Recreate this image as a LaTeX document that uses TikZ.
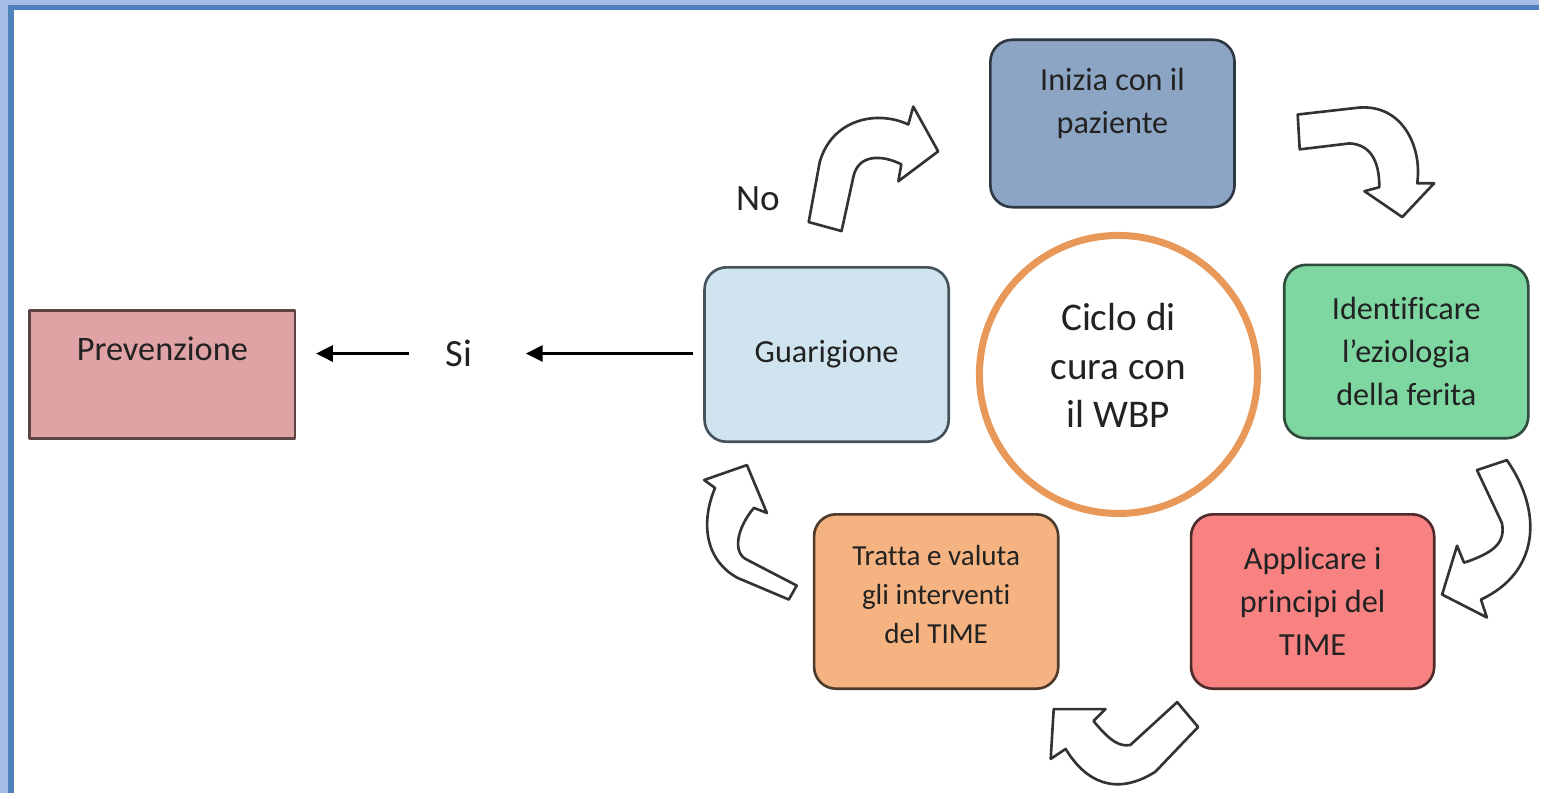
\documentclass[tikz,border=0pt]{standalone}
\usepackage{fontspec}
\setmainfont{Carlito}[Ligatures=NoCommon]
\usetikzlibrary{arrows.meta}
\definecolor{framelight}{HTML}{A6BEE6}
\definecolor{framedark}{HTML}{4F81BD}
\definecolor{textdark}{HTML}{222222}
\definecolor{arrowgrey}{HTML}{333333}
\definecolor{ringorange}{HTML}{E8995A}
\definecolor{prevfill}{HTML}{DFA3A6}  \definecolor{prevline}{HTML}{5E4444}
\definecolor{guarfill}{HTML}{CFE4EF}  \definecolor{guarline}{HTML}{45525C}
\definecolor{inifill}{HTML}{8DA5C4}   \definecolor{iniline}{HTML}{2E3845}
\definecolor{identfill}{HTML}{7ED6A1} \definecolor{identline}{HTML}{2F4B3B}
\definecolor{applfill}{HTML}{F88181}  \definecolor{applline}{HTML}{4E2B2B}
\definecolor{tratfill}{HTML}{F5B381}  \definecolor{tratline}{HTML}{4E3B2B}
\begin{document}
\begin{tikzpicture}[x=0.01cm, y=-0.01cm, line join=round,
  box/.style={rectangle, rounded corners=0.22cm, line width=0.75pt, minimum width=2.45cm, minimum height=1.75cm, align=center, text=textdark, font=\fontsize{9.2}{12.2}\selectfont},
  boxlabel/.style={align=center, text=textdark, font=\fontsize{9.2}{12.2}\selectfont},
  bent/.style={draw=arrowgrey, fill=white, line width=0.75pt},
  flow/.style={-{Triangle[length=4.8pt,width=4.6pt]}, line width=0.8pt},
  word/.style={inner sep=0pt, text=textdark, font=\fontsize{10.6}{13}\selectfont}]
  % frame
  \fill[framelight] (0,0) rectangle (1545,796);
  \fill[framedark] (8,5) rectangle (1545,796);
  \fill[white] (14,10) rectangle (1545,796);
  % boxes of the cycle
  \node[box, rounded corners=0pt, minimum width=2.66cm, minimum height=1.28cm, fill=prevfill, draw=prevline,
    label={[boxlabel, font=\fontsize{9.8}{12}\selectfont, yshift=0.26cm]center:Prevenzione}] (prev) at (163,376) {};
  \node[word, font=\fontsize{11}{13}\selectfont] (si) at (461,355) {Si};
  \node[box, fill=guarfill, draw=guarline] (guar) at (830,356) {Guarigione};
  \node[box, minimum height=1.68cm, fill=inifill, draw=iniline,
    label={[boxlabel, yshift=0.2cm]center:Inizia con il\\paziente}] (inizia) at (1117,124) {};
  \node[box, minimum height=1.74cm, fill=identfill, draw=identline] (ident) at (1412,353) {Identificare\\l’eziologia\\della ferita};
  \node[box, minimum width=2.44cm, fill=applfill, draw=applline] (appl) at (1318,604) {Applicare i\\principi del\\TIME};
  \node[box, fill=tratfill, draw=tratline,
    label={[boxlabel, font=\fontsize{8.3}{11.1}\selectfont, yshift=0.07cm]center:Tratta e valuta\\gli interventi\\del TIME}] (tratta) at (940,604) {};
  \node[circle, draw=ringorange, line width=2pt, fill=white, minimum size=2.79cm,
    label={[boxlabel, font=\fontsize{11.2}{13.9}\selectfont, yshift=0.09cm]center:Ciclo di\\cura con\\il WBP}] (wbp) at (1123,376) {};
  \node[word] (no) at (761,200) {No};
  % way out of the cycle
  \draw[flow, shorten <=0.1cm, shorten >=0.53cm] (guar.west |- si) -- (si);
  \draw[flow, shorten <=0.36cm, shorten >=0.2cm] (si) -- (si -| prev.east);
  % bent block arrows round the circle
  \draw[bent] (812,223) -- (823,163) .. controls (835,120) and (880,110) .. (912,125) -- (917,107) -- (942,152)
    -- (902,182) -- (905,165) .. controls (885,155) and (862,155) .. (857,177) -- (845,232) -- cycle;
  \draw[bent] (1303,115) -- (1365,108) .. controls (1410,105) and (1428,150) .. (1423,184) -- (1440,184) -- (1408,218)
    -- (1370,192) -- (1385,188) .. controls (1385,160) and (1375,145) .. (1355,144) -- (1305,150) -- cycle;
  \draw[bent] (1483,472) -- (1513,462) .. controls (1550,515) and (1545,575) .. (1487,602) -- (1493,620) -- (1448,597)
    -- (1463,548) -- (1470,565) .. controls (1500,555) and (1512,545) .. (1508,525) -- cycle;
  \draw[bent] (1058,712) -- (1110,712) -- (1098,724) .. controls (1115,745) and (1125,750) .. (1135,748) -- (1182,705)
    -- (1203,730) -- (1160,775) .. controls (1120,800) and (1090,785) .. (1070,752) -- (1055,762) -- cycle;
  \draw[bent] (707,482) -- (750,467) -- (770,515) -- (757,510) .. controls (740,530) and (735,555) .. (750,562)
    -- (800,588) -- (792,602) -- (740,580) .. controls (705,560) and (705,520) .. (718,490) -- cycle;
\end{tikzpicture}
\end{document}
